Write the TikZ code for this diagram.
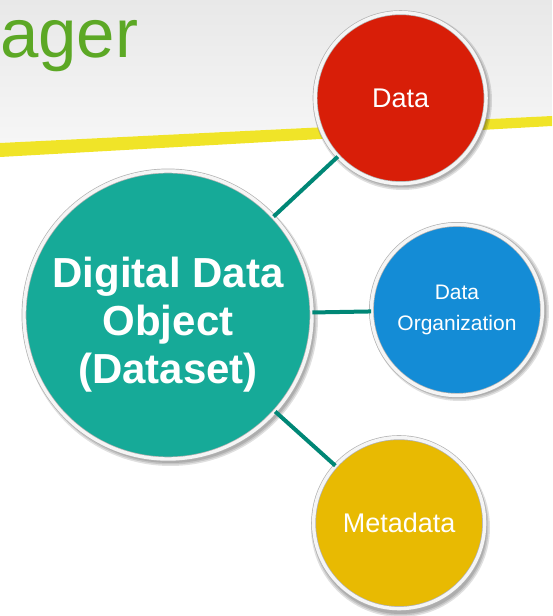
\documentclass[tikz,border=0pt]{standalone}
\usepackage{fontspec}
\setmainfont{Liberation Sans}
\usetikzlibrary{trees}

\definecolor{titlegreen}{RGB}{92,168,37}
\definecolor{bandyellow}{RGB}{240,228,40}
\definecolor{hubteal}{RGB}{22,170,152}
\definecolor{datared}{RGB}{216,30,8}
\definecolor{orgblue}{RGB}{20,140,214}
\definecolor{metayellow}{RGB}{232,186,2}
\definecolor{linkteal}{RGB}{0,135,118}

\tikzstyle{bubble}=[circle,draw=gray!60,line width=0.7pt,double=gray!8,double distance=3.4pt,
	text=white,align=center,inner sep=0pt]
\tikzstyle{hub}=[bubble,fill=hubteal,minimum size=288pt,font=\fontsize{42}{48}\selectfont\bfseries]
\tikzstyle{sat}=[bubble,minimum size=171pt,font=\fontsize{27}{32}\selectfont]
\tikzstyle{title}=[text=titlegreen,anchor=base west,inner sep=0pt,font=\fontsize{69}{80}\selectfont]

\begin{document}
\begin{tikzpicture}[x=1pt,y=1pt,
				edge from parent/.style={draw=linkteal,line width=4pt}]
				\useasboundingbox (0,0) rectangle (552,616);
				% slide background
				\shade[top color=gray!18,bottom color=gray!7] (0,616) -- (552,616) -- (552,500) -- (0,473) -- cycle;
				\fill[bandyellow] (0,473) -- (552,500) -- (552,490) -- (0,459) -- cycle;
				\node[title] (heading) at (0,558) {ager};
				% soft shadows below the buttons
				\foreach \cx/\cy/\rad in {168/301/146,400/519/88,457/308/88,398/92/88}
					\foreach \grow in {0,1.5,3}
						\fill[black,fill opacity=0.12] (\cx+2.5,\cy-3.5) circle (\rad+\grow-1.5);
				% hub and its three parts
				\node[hub] (dataset) at (168,301) {\rule{0pt}{49pt}Digital Data\\Object\\(Dataset)}
					child[grow=43.2,level distance=318pt] { node[sat,fill=datared] (data) {Data}}
					child[grow=1.3,level distance=289pt] { node[sat,fill=orgblue,font=\fontsize{21}{31}\selectfont] (org) {Data\\Organization}}
					child[grow=-42.3,level distance=311pt] { node[sat,fill=metayellow] (meta) {Metadata}};
			\end{tikzpicture}
\end{document}
